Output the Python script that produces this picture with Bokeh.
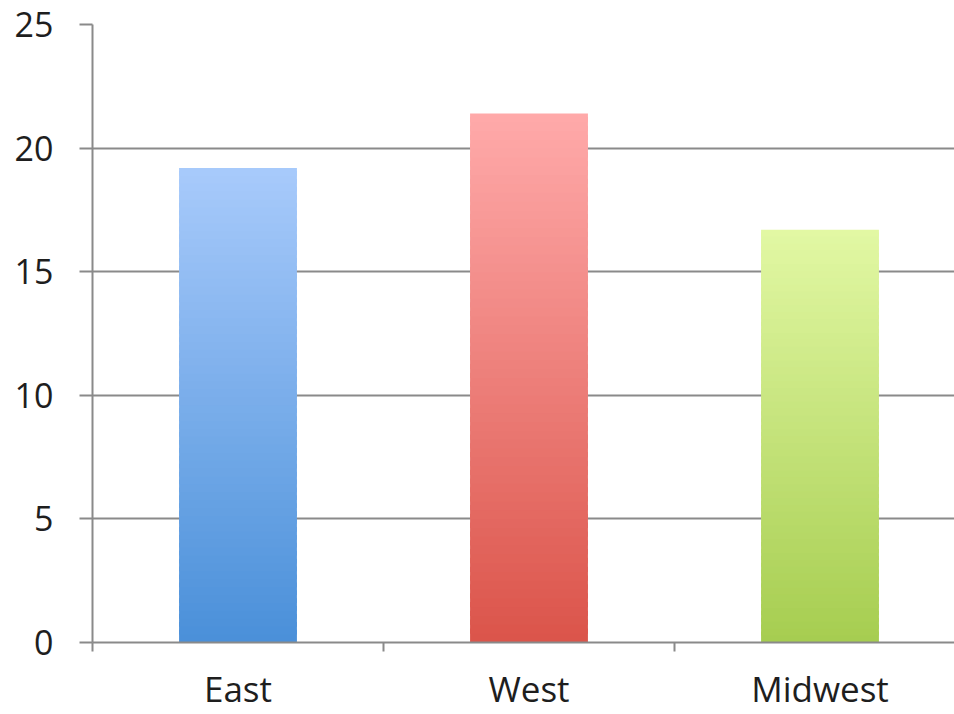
from bokeh.plotting import figure
from bokeh.models import Range1d, FixedTicker, ColumnDataSource
from bokeh.embed import file_html
from bokeh.resources import INLINE

# ---- data ----
categories = ["East", "West", "Midwest"]
values = [19.2, 21.4, 16.7]
y_ticks = [0, 5, 10, 15, 20, 25]

# gradient colours (top, bottom) per bar
top_colors = [(168, 202, 251), (255, 170, 170), (226, 248, 164)]
bottom_colors = [(74, 144, 217), (219, 84, 74), (166, 205, 80)]

N_SLICES = 60
BAR_WIDTH = 0.405

positions = [i + 0.5 for i in range(len(categories))]

W, H = 954, 714
LEFT, TOP = 92, 24
p = figure(width=W, height=H, output_backend="svg", toolbar_location=None,
           x_range=Range1d(0, (W - LEFT) / 291), y_range=Range1d(0, 25),
           min_border_left=LEFT, min_border_top=TOP, min_border_bottom=72,
           min_border_right=0)
p.outline_line_color = None
p.background_fill_color = "white"
p.border_fill_color = "white"

# bars drawn as gradient slices
xs, bots, tops, cols = [], [], [], []
for x, v, tc, bc in zip(positions, values, top_colors, bottom_colors):
    for i in range(N_SLICES):
        f = (i + 0.5) / N_SLICES  # 0 = bottom, 1 = top
        r = round(bc[0] + (tc[0] - bc[0]) * f)
        g = round(bc[1] + (tc[1] - bc[1]) * f)
        b = round(bc[2] + (tc[2] - bc[2]) * f)
        xs.append(x)
        bots.append(v * i / N_SLICES)
        tops.append(min(v, v * (i + 1.6) / N_SLICES))
        cols.append("#%02x%02x%02x" % (r, g, b))

src = ColumnDataSource(dict(x=xs, bottom=bots, top=tops, color=cols))
p.vbar(x="x", bottom="bottom", top="top", width=BAR_WIDTH, source=src,
       fill_color="color", line_color=None)

GRID = "#8a8a8a"
FONT = "Open Sans"

# y axis
yax = p.yaxis[0]
yax.ticker = FixedTicker(ticks=y_ticks)
yax.axis_line_color = GRID
yax.axis_line_width = 2
yax.major_tick_out = 13
yax.major_tick_in = 0
yax.major_tick_line_color = GRID
yax.major_tick_line_width = 2
yax.minor_tick_line_color = None
yax.major_label_text_font = FONT
yax.major_label_text_font_size = "34px"
yax.major_label_text_line_height = 1.0
yax.major_label_text_color = "#1e1e1e"
yax.major_label_standoff = 26

p.ygrid.ticker = FixedTicker(ticks=y_ticks)
p.ygrid.grid_line_color = GRID
p.ygrid.grid_line_width = 2
p.xgrid.grid_line_color = None

# x axis
xax = p.xaxis[0]
xax.ticker = FixedTicker(ticks=positions,
                         minor_ticks=list(range(len(categories) + 1)))
xax.major_label_overrides = {pos: c for pos, c in zip(positions, categories)}
xax.axis_line_color = GRID
xax.axis_line_width = 2
xax.major_tick_line_color = None
xax.major_tick_out = 0
xax.major_tick_in = 0
xax.minor_tick_line_color = GRID
xax.minor_tick_line_width = 2
xax.minor_tick_out = 9
xax.minor_tick_in = 0
xax.major_label_text_font = FONT
xax.major_label_text_font_size = "35px"
xax.major_label_text_line_height = 1.0
xax.major_label_text_color = "#1e1e1e"
xax.major_label_standoff = 13

open("out.html", "w").write(file_html(p, INLINE))
